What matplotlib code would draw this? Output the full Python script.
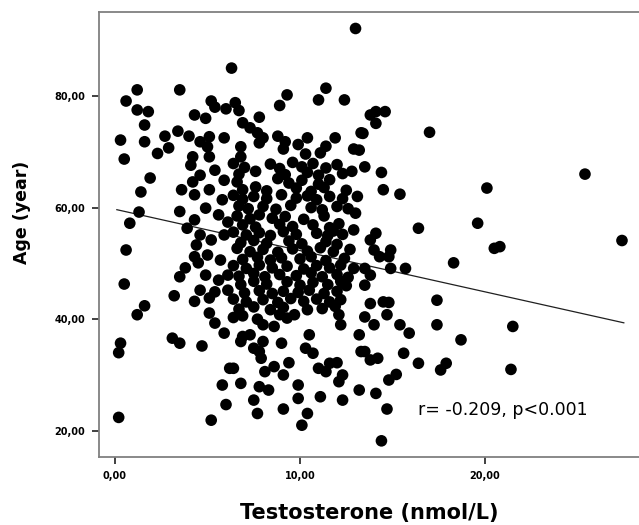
import matplotlib
matplotlib.use("Agg")
import matplotlib.pyplot as plt
import numpy as np

# ---- data (testosterone nmol/L, age years) ----
testo_left = [0.2, 0.3, 0.2, 0.5, 0.6, 0.8, 1.3, 1.4, 1.9, 0.5, 0.3, 0.6, 1.2, 1.6, 1.6, 1.2, 1.8, 1.6, 1.2, 2.3, 3.5]
age_left   = [22.4, 35.7, 34.0, 46.3, 52.4, 57.2, 59.2, 62.8, 65.3, 68.7, 72.1, 79.1, 81.1, 74.8, 71.8, 77.5, 77.2, 42.4, 40.8, 69.7, 81.1]

testo_top = [5.2, 5.4, 6.0, 4.3, 4.9, 3.4, 4.0, 2.7, 2.9, 4.2, 4.6, 5.1, 5.0, 5.9, 5.1,
             13.0, 6.3, 11.4, 11.0, 12.4, 9.3, 8.9, 6.5, 6.7, 7.8, 6.9, 7.3, 7.7, 8.0, 7.8,
             8.8, 9.2, 10.4, 9.9, 11.9, 11.4, 11.1, 12.9, 13.3, 6.8, 6.8, 9.1, 10.3,
             14.1, 14.6, 13.8, 14.1, 13.4, 17.0, 13.2]
age_top   = [79.1, 78.0, 77.7, 76.6, 76.0, 73.7, 72.8, 72.8, 70.7, 69.1, 71.8, 72.7, 70.9, 72.5, 69.1,
             92.1, 85.0, 81.4, 79.3, 79.3, 80.2, 78.3, 78.8, 77.4, 76.2, 75.2, 74.3, 73.4, 72.5, 71.6,
             72.8, 71.8, 72.5, 71.3, 72.5, 71.0, 69.8, 70.5, 73.4, 70.9, 69.1, 70.5, 69.6,
             77.2, 77.2, 76.6, 75.1, 73.3, 73.5, 70.3]

testo_mid_left = [4.1, 4.2, 3.6, 3.5, 3.9, 4.3, 4.4, 4.3, 3.8, 3.5, 4.5, 3.2, 4.3, 5.1,
                  4.6, 5.4, 5.9, 4.3, 5.1, 5.8, 4.9, 5.6, 6.1, 4.6, 5.2, 5.9, 5.0, 5.7, 4.9, 5.6, 6.1, 4.6, 5.4, 6.1]
age_mid_left   = [67.6, 64.6, 63.2, 59.3, 56.3, 57.8, 53.3, 51.2, 49.2, 47.6, 50.1, 44.2, 43.2, 43.8,
                  65.8, 66.7, 64.9, 62.3, 63.2, 61.4, 59.9, 58.7, 57.4, 55.1, 54.2, 55.1, 51.5, 50.6, 47.9, 47.0, 47.9, 45.2, 44.9, 45.2]

testo_core = [6.4, 7.0, 8.4, 8.9, 9.6, 10.1, 10.7, 11.4, 12.0,
              6.7, 7.6, 9.2, 10.4, 11.0, 12.3,
              6.6, 8.8, 9.4, 10.1, 11.0, 11.6,
              6.9, 7.6, 8.2, 9.8, 10.6, 11.3, 12.5,
              6.4, 6.9, 7.5, 8.2, 9.0, 9.8, 10.4, 10.9, 11.6, 12.3,
              6.7, 7.2, 8.0, 8.7, 9.5, 10.6, 11.2, 12.0, 12.6,
              6.6, 7.3, 7.8, 8.5, 9.2, 10.2, 11.3,
              6.9, 7.6, 8.9, 9.6, 10.7, 11.6, 12.1,
              6.4, 7.1, 7.8, 8.4, 9.1, 9.8, 10.9, 11.5, 11.8, 12.3,
              6.8, 7.5, 8.2, 9.4, 10.1, 11.4, 12.0,
              6.6, 7.3, 8.0, 8.8, 9.6, 10.4, 11.1, 11.8, 12.7,
              6.9, 7.7, 8.4, 9.0, 10.0, 10.6, 11.4, 12.4,
              6.4, 7.1, 7.8, 8.5, 9.3, 10.2, 10.9, 11.6, 12.2, 12.9,
              6.7, 7.5, 8.1, 8.9, 9.8, 10.6, 11.2, 12.0, 12.6,
              6.8, 7.5, 8.2, 9.3, 10.0, 10.7, 11.5, 12.2, 12.5,
              7.0, 7.8, 8.5, 9.1, 9.9, 10.5, 11.3, 12.0,
              6.4, 7.1, 8.0, 8.8, 9.5, 10.2, 10.9, 11.6, 12.2,
              6.7, 7.5, 8.4, 9.1, 11.2, 11.9,
              12.8, 13.0, 12.9, 13.1]
age_core   = [67.9, 67.2, 67.8, 67.0, 68.1, 67.3, 67.9, 67.1, 67.7,
              66.0, 66.5, 65.9, 66.3, 65.8, 66.1,
              64.6, 65.2, 64.4, 64.9, 64.2, 65.0,
              63.2, 63.7, 63.0, 63.5, 62.9, 63.6, 63.1,
              62.2, 61.5, 62.0, 61.6, 62.3, 61.7, 62.1, 61.4, 62.0, 61.6,
              60.3, 59.8, 60.2, 59.7, 60.4, 60.0, 59.6, 60.2, 59.8,
              58.5, 58.0, 58.7, 58.1, 58.4, 57.9, 58.5,
              56.9, 56.5, 57.0, 56.6, 56.9, 56.4, 57.1,
              55.6, 55.1, 55.5, 55.0, 55.7, 55.2, 55.4, 55.0, 55.8, 55.2,
              53.7, 54.1, 53.6, 54.0, 53.5, 53.9, 53.4,
              52.7, 52.1, 52.5, 52.0, 52.6, 52.2, 52.8, 52.1, 52.5,
              50.7, 51.1, 50.6, 51.0, 50.8, 51.2, 50.5, 50.9,
              49.6, 49.1, 49.7, 49.2, 49.5, 49.0, 49.6, 49.2, 49.7, 49.1,
              47.7, 48.2, 47.6, 48.0, 47.8, 48.3, 47.6, 48.0, 47.5,
              46.2, 46.8, 46.3, 46.7, 46.1, 46.6, 46.2, 46.8, 46.0,
              44.7, 45.1, 44.6, 45.0, 44.8, 45.2, 44.6, 45.0,
              43.6, 43.1, 43.5, 43.0, 43.7, 43.2, 43.6, 43.1, 43.5,
              41.8, 42.2, 41.7, 42.1, 41.9, 42.3,
              66.5, 59.0, 56.0, 62.0]

testo_low = [3.1, 3.5, 4.7, 6.2, 5.8, 6.0, 5.2, 5.1, 5.9, 5.4,
             6.8, 7.5, 7.7, 6.4, 7.8, 8.3, 9.1, 10.1, 10.4, 9.9, 9.9, 9.1, 9.4, 8.6, 8.1,
             9.0, 10.5, 10.3, 10.7, 11.0, 11.4, 11.6, 12.0, 12.3, 12.1, 11.1, 12.3, 13.2,
             13.2, 13.3, 12.1, 12.2, 6.9, 7.3, 6.8, 7.5, 7.8, 7.9, 8.0,
             6.4, 6.9, 7.7, 8.0, 8.6, 8.9, 9.3, 9.7, 10.4]
age_low   = [36.6, 35.7, 35.2, 31.2, 28.2, 24.7, 21.9, 41.1, 37.5, 39.3,
             28.5, 25.5, 23.1, 31.2, 27.9, 27.3, 23.9, 21.0, 23.1, 25.8, 28.2, 30.0, 32.2, 31.5, 30.6,
             35.7, 37.2, 34.8, 33.9, 31.2, 30.6, 32.1, 32.2, 30.0, 28.8, 26.1, 25.5, 27.3,
             37.2, 34.2, 40.8, 39.0, 36.9, 37.2, 36.0, 34.8, 34.2, 33.0, 36.0,
             40.3, 40.6, 40.0, 39.0, 38.7, 40.8, 40.2, 40.8, 41.7]

testo_right = [14.7, 13.5, 14.0, 15.4, 15.9, 17.4, 18.7, 13.5, 13.8, 14.2, 15.6, 16.4, 17.6, 17.9,
               14.8, 15.2, 14.1, 14.7, 14.4,
               13.5, 14.4, 14.5, 15.4, 20.1, 16.4, 19.6, 14.1, 13.8, 14.0, 14.3, 14.9, 14.8, 18.3,
               13.5, 13.8, 13.5, 14.9, 15.7, 17.4, 13.8, 14.5, 14.8,
               25.4, 20.8, 20.5, 27.4, 21.5, 21.4]
age_right   = [40.8, 40.4, 39.0, 39.0, 37.5, 39.0, 36.3, 34.2, 32.7, 33.0, 33.9, 32.1, 30.9, 32.1,
               29.1, 30.1, 26.7, 23.9, 18.2,
               67.3, 66.3, 63.2, 62.4, 63.5, 56.3, 57.2, 55.4, 54.2, 52.4, 51.2, 52.4, 51.2, 50.1,
               49.1, 47.9, 46.1, 49.1, 49.1, 43.4, 42.8, 43.1, 43.0,
               66.0, 53.0, 52.7, 54.1, 38.7, 31.0]

# fitted regression line
fit_intercept = 59.7
fit_slope = -0.74
fit_range = [0.1, 27.5]

x_ticks = [0, 10, 20]
x_ticklabels = ["0,00", "10,00", "20,00"]
y_ticks = [20, 40, 60, 80]
y_ticklabels = ["20,00", "40,00", "60,00", "80,00"]

testo = np.array(testo_left + testo_top + testo_mid_left + testo_core + testo_low + testo_right)
age = np.array(age_left + age_top + age_mid_left + age_core + age_low + age_right)

fig = plt.figure(figsize=(6.39, 5.25), dpi=100)
ax = fig.add_axes([0.1549, 0.1295, 0.8451, 0.8476])

ax.scatter(testo, age, s=70, c="black", edgecolors="none", zorder=3)
lx = np.array(fit_range)
ax.plot(lx, fit_intercept + fit_slope * lx, color="#202020", lw=0.9, zorder=2)

ax.set_xlim(-0.865, 28.32)
ax.set_ylim(15.3, 95.05)
ax.set_xticks(x_ticks)
ax.set_xticklabels(x_ticklabels)
ax.set_yticks(y_ticks)
ax.set_yticklabels(y_ticklabels)
ax.tick_params(axis="both", labelsize=7, length=5, width=1.2, color="#202020", pad=5)
for lab in ax.get_xticklabels() + ax.get_yticklabels():
    lab.set_fontweight("bold")

for side in ["left", "bottom", "top"]:
    ax.spines[side].set_color("#808080")
    ax.spines[side].set_linewidth(1.3)
ax.spines["right"].set_visible(False)

ax.set_xlabel("Testosterone (nmol/L)", fontsize=15, fontweight="bold", va="center")
ax.xaxis.set_label_coords(0.5, -0.126)
ax.set_ylabel("Age (year)", fontsize=12.5, fontweight="bold", va="center")
ax.yaxis.set_label_coords(-0.143, 0.55)

ax.text(16.4, 23.7, "r= -0.209, p<0.001", fontsize=12.5, va="center", ha="left")

fig.savefig("out.png", dpi=100)
